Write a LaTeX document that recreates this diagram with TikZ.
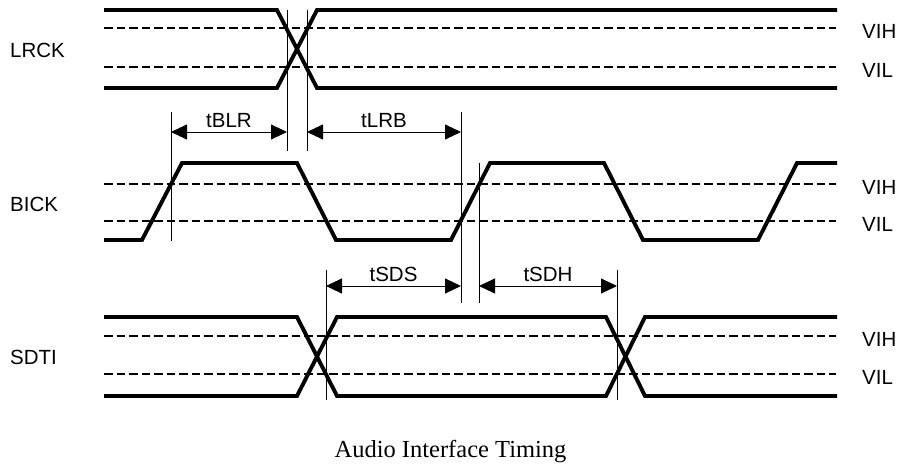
\documentclass[tikz,border=0pt]{standalone}
\usepackage{fontspec}
\setmainfont{Liberation Serif}
\newfontfamily\lab{Liberation Sans}
\usetikzlibrary{arrows.meta}
\begin{document}
\begin{tikzpicture}[x=1pt,y=-1pt,
  wave/.style={line width=3.9pt,line join=miter},
  thr/.style={line width=1.1pt,dash pattern=on 8.5pt off 4pt},
  markline/.style={line width=0.9pt},
  dim/.style={line width=0.9pt,{Triangle[length=16pt,width=15pt]}-{Triangle[length=16pt,width=15pt]}},
  lbl/.style={font=\lab\fontsize{20.5}{24}\selectfont,inner sep=0pt},
]
\useasboundingbox (0,0) rectangle (904,468);
% threshold lines
\foreach \y in {28,67,184,221,336,374} \draw[thr] (104,\y) -- (836,\y);
% LRCK
\draw[wave] (104,10) -- (277,10) -- (317,88) -- (837,88);
\draw[wave] (104,88) -- (277,88) -- (317,10) -- (837,10);
% BICK
\draw[wave] (104,240) -- (142,240) -- (182,163) -- (297,163) -- (336,240) -- (451,240) -- (490,163) -- (604,163) -- (643,240) -- (758,240) -- (797,163) -- (837,163);
% SDTI
\draw[wave] (104,317) -- (297,317) -- (337,396) -- (606,396) -- (645,317) -- (837,317);
\draw[wave] (104,396) -- (297,396) -- (337,317) -- (606,317) -- (645,396) -- (837,396);
% marker lines
\coordinate (m1t) at (171,112); \coordinate (m1b) at (171,241);
\coordinate (m2t) at (287,10);  \coordinate (m2b) at (287,151);
\coordinate (m3t) at (307,10);  \coordinate (m3b) at (307,151);
\coordinate (m4t) at (461,112); \coordinate (m4b) at (461,303);
\coordinate (m5t) at (479,163); \coordinate (m5b) at (479,303);
\coordinate (m6t) at (326,270); \coordinate (m6b) at (326,400);
\coordinate (m7t) at (617,270); \coordinate (m7b) at (617,400);
\foreach \i in {1,...,7} \draw[markline] (m\i t) -- (m\i b);
% dimension arrows
\coordinate (a1) at (171,132); \coordinate (a2) at (287,132);
\coordinate (a3) at (307,132); \coordinate (a4) at (461,132);
\coordinate (a5) at (326,286); \coordinate (a6) at (461,286);
\coordinate (a7) at (479,286); \coordinate (a8) at (617,286);
\draw[dim] (a1) -- (a2) node[lbl,midway,above=4pt] (tblr) {tBLR};
\draw[dim] (a3) -- (a4) node[lbl,midway,above=4pt] (tlrb) {tLRB};
\draw[dim] (a5) -- (a6) node[lbl,midway,above=4pt] (tsds) {tSDS};
\draw[dim] (a7) -- (a8) node[lbl,midway,above=4pt] (tsdh) {tSDH};
% signal names
\node[lbl,anchor=west] (lrck) at (10,50) {LRCK};
\node[lbl,anchor=west] (bick) at (10,204) {BICK};
\node[lbl,anchor=west] (sdti) at (10,357) {SDTI};
% level labels
\node[lbl,anchor=west] (vih1) at (862,31) {VIH};
\node[lbl,anchor=west] (vil1) at (862,70) {VIL};
\node[lbl,anchor=west] (vih2) at (862,187) {VIH};
\node[lbl,anchor=west] (vil2) at (862,224) {VIL};
\node[lbl,anchor=west] (vih3) at (862,339) {VIH};
\node[lbl,anchor=west] (vil3) at (862,377) {VIL};
% caption
\node[font=\fontsize{24.5}{29}\selectfont,inner sep=0pt,anchor=base] (cap) at (450.5,457) {Audio Interface Timing};
\end{tikzpicture}
\end{document}
